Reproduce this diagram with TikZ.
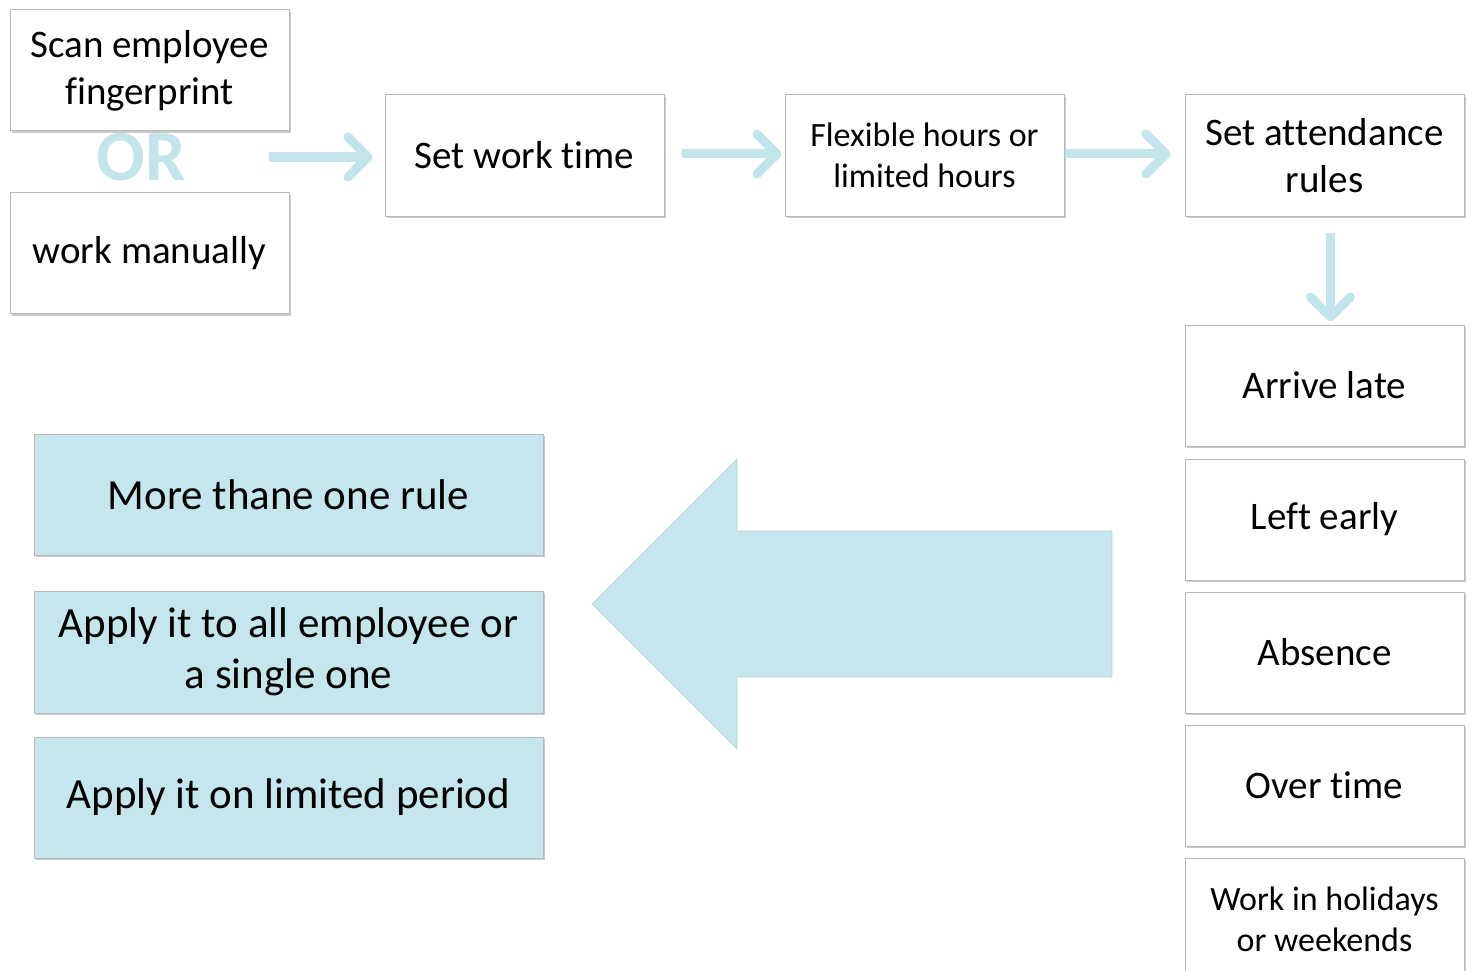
\documentclass[tikz,border=0pt]{standalone}
\usepackage{fontspec}
\setmainfont{Carlito}[Ligatures=NoCommon]
\usetikzlibrary{arrows.meta,shadows,positioning}
\definecolor{lblue}{RGB}{197,230,236}
\definecolor{arrblue}{RGB}{194,228,235}
\definecolor{bordergray}{RGB}{185,185,185}
\tikzset{
  boxbase/.style={draw=bordergray, line width=1pt, inner sep=0pt, align=center,
    drop shadow={shadow xshift=2pt, shadow yshift=-2pt, opacity=0.35, fill=black!60}},
  whitebox/.style={boxbase, fill=white, minimum width=279pt, minimum height=121pt},
  bluebox/.style={boxbase, fill=lblue, minimum width=509pt, minimum height=121pt, font=\fontsize{43}{51}\selectfont},
  bigtxt/.style={font=\fontsize{39}{47}\selectfont},
  midtxt/.style={font=\fontsize{34}{41}\selectfont},
  flowarrow/.style={draw=arrblue, line width=9pt,
    -{Straight Barb[length=20pt,width=40pt,line cap=round,line join=round]}},
}
\begin{document}
\begin{tikzpicture}[x=1pt,y=-1pt]
\useasboundingbox (0,0) rectangle (1475,971);

% top row
\node[whitebox,bigtxt] (scan) at (149.5,70.5) {Scan employee\\fingerprint};
\node[whitebox,bigtxt] (manual) at (149.5,253) {work manually};
\node[text=arrblue, font=\fontsize{72}{72}\selectfont\bfseries, inner sep=0pt] (or) at (141,157) {OR};
\node[whitebox,bigtxt] (setwork) at (524.5,155.5) {Set work time};
\node[whitebox,midtxt] (flex) at (924.5,155.5) {Flexible hours or\\limited hours};
\node[whitebox,bigtxt] (attend) at (1324.5,155.5) {Set attendance\\rules};

% right column
\node[whitebox,bigtxt] (arrive) at (1324.5,385.5) {Arrive late};
\node[whitebox,bigtxt] (left) at (1324.5,519.5) {Left early};
\node[whitebox,bigtxt] (absence) at (1324.5,652.5) {Absence};
\node[whitebox,bigtxt] (overtime) at (1324.5,785.5) {Over time};
\node[whitebox,midtxt] (holiday) at (1324.5,919) {Work in holidays\\or weekends};

% left blue boxes
\node[bluebox] (more) at (288.5,494.5) {More thane one rule};
\node[bluebox, minimum height=122pt] (all) at (288.5,652) {Apply it to all employee or\\a single one};
\node[bluebox] (period) at (288.5,797.5) {Apply it on limited period};

% connectors
\coordinate (a1s) at (269,157);
\coordinate (a1e) at ([xshift=-12pt]setwork.west |- a1s);
\draw[flowarrow] (a1s) -- (a1e);
\draw[flowarrow, shorten <=17pt, shorten >=3pt] ([yshift=1.5pt]setwork.east) -- ([yshift=1.5pt]flex.west);
\draw[flowarrow, shorten >=14pt] ([yshift=1.5pt]flex.east) -- ([yshift=1.5pt]attend.west);
\draw[flowarrow, shorten <=16pt, shorten >=3pt] ([xshift=6pt]attend.south) -- ([xshift=6pt]arrive.north);

% big arrow
\fill[lblue, draw=arrblue!80!gray, line width=0.6pt]
  (1112,531) -- (737,531) -- (737,459) -- (592,604) -- (737,749) -- (737,677) -- (1112,677) -- cycle;
\end{tikzpicture}
\end{document}
